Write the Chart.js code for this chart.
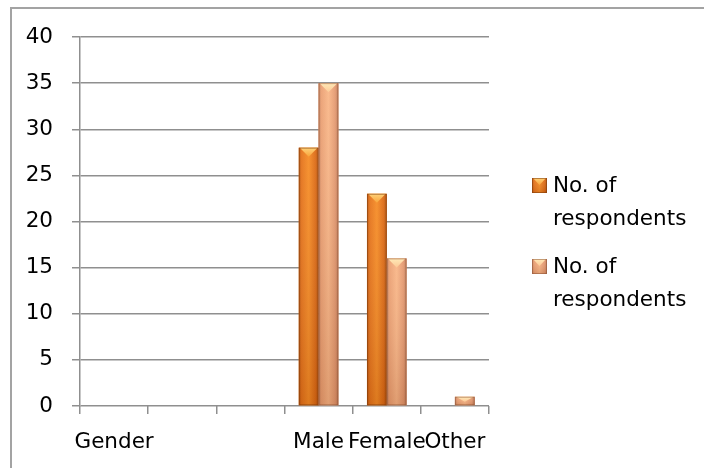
<!DOCTYPE html>
<html>
<head>
<meta charset="utf-8">
<script src="https://cdn.jsdelivr.net/npm/chart.js@4.4.1/dist/chart.umd.min.js"></script>
<style>
  html, body { margin: 0; padding: 0; background: #ffffff; }
  canvas { display: block; }
</style>
</head>
<body>
<canvas id="chart" width="704" height="468"></canvas>
<script>
// Survey data: respondents by gender
const categories = ['Gender', '', '', 'Male', 'Female', 'Other'];
const seriesLabels = ['No. of respondents', 'No. of respondents'];
const respondentsA = [null, null, null, 28, 23, 0];
const respondentsB = [null, null, null, 35, 16, 1];
const yMin = 0;
const yMax = 40;
const yStep = 5;

const FONT = { family: "'DejaVu Sans', sans-serif", size: 21.5 };
const GRID = '#8f8f8f';

// Bevelled bar look for each series
const palettes = [
  {
    base: '#ee7f1f',
    side: [[0, '#b9530d'], [0.14, '#e5731a'], [0.5, '#f68c25'], [0.84, '#dc6a14'], [1, '#b0500c']],
    capTop: '#ffd27a', capBottom: '#f8a43a',
    edge: 'rgba(130,60,10,0.55)'
  },
  {
    base: '#f3a574',
    side: [[0, '#c4825f'], [0.14, '#eba073'], [0.5, '#f9b687'], [0.84, '#e49970'], [1, '#bd7b59']],
    capTop: '#ffeab8', capBottom: '#fcc996',
    edge: 'rgba(140,80,50,0.5)'
  }
];

function paintBar(ctx, left, top, w, h, pal, bevel) {
  if (h <= 0.5 || w <= 0) return;
  ctx.save();
  const g = ctx.createLinearGradient(left, 0, left + w, 0);
  pal.side.forEach(([o, c]) => g.addColorStop(o, c));
  ctx.fillStyle = g;
  ctx.fillRect(left, top, w, h);
  const v = ctx.createLinearGradient(0, top, 0, top + Math.max(h, 1));
  v.addColorStop(0, 'rgba(255,255,255,0.06)');
  v.addColorStop(1, 'rgba(90,30,0,0.16)');
  ctx.fillStyle = v;
  ctx.fillRect(left, top, w, h);
  const b = Math.min(bevel, h * 0.6);
  ctx.beginPath();
  ctx.moveTo(left + 1, top);
  ctx.lineTo(left + w - 1, top);
  ctx.lineTo(left + w / 2, top + b);
  ctx.closePath();
  const tg = ctx.createLinearGradient(0, top, 0, top + b);
  tg.addColorStop(0, pal.capTop);
  tg.addColorStop(1, pal.capBottom);
  ctx.fillStyle = tg;
  ctx.fill();
  ctx.strokeStyle = pal.edge;
  ctx.lineWidth = 1;
  ctx.strokeRect(left + 0.5, top + 0.5, w - 1, h - 1);
  ctx.restore();
}

// Outer frame of the chart object
const framePlugin = {
  id: 'frame',
  beforeDraw(chart) {
    const ctx = chart.ctx;
    ctx.save();
    ctx.fillStyle = '#ffffff';
    ctx.fillRect(0, 0, chart.width, chart.height);
    ctx.strokeStyle = '#a3a3a3';
    ctx.lineWidth = 2;
    ctx.strokeRect(11, 8, chart.width + 20, chart.height + 20);
    ctx.restore();
  }
};

// Repaint each bar with the bevel shading, using the element geometry
const bevelPlugin = {
  id: 'bevelBars',
  afterDatasetsDraw(chart) {
    const ctx = chart.ctx;
    chart.data.datasets.forEach((ds, i) => {
      const meta = chart.getDatasetMeta(i);
      meta.data.forEach((el, j) => {
        if (ds.data[j] == null) return;
        const { x, y, base, width } = el.getProps(['x', 'y', 'base', 'width'], true);
        const top = Math.min(y, base);
        const h = Math.abs(base - y);
        paintBar(ctx, x - width / 2, top, width, h, palettes[i], 9);
      });
    });
  }
};

// Legend at the right with wrapped labels
const sideLegendPlugin = {
  id: 'sideLegend',
  afterDraw(chart) {
    const ctx = chart.ctx;
    const area = chart.chartArea;
    const boxX = area.right + 43;
    const textX = area.right + 64;
    const maxW = chart.width - textX - 4;
    const lineGap = 33;
    const itemGap = 81;
    let baseline = 192;
    ctx.save();
    ctx.font = `${FONT.size}px ${FONT.family}`;
    ctx.fillStyle = '#000000';
    ctx.textAlign = 'left';
    ctx.textBaseline = 'alphabetic';
    chart.data.datasets.forEach((ds, i) => {
      const words = ds.label.split(' ');
      const lines = [];
      let cur = '';
      words.forEach(wd => {
        const t = cur ? cur + ' ' + wd : wd;
        if (cur && ctx.measureText(t).width > maxW) { lines.push(cur); cur = wd; }
        else cur = t;
      });
      if (cur) lines.push(cur);
      paintBar(ctx, boxX, baseline - 14, 15, 15, palettes[i], 7);
      lines.forEach((ln, k) => ctx.fillText(ln, textX, baseline + k * lineGap));
      baseline += itemGap;
    });
    ctx.restore();
  }
};

new Chart(document.getElementById('chart'), {
  type: 'bar',
  data: {
    labels: categories,
    datasets: [
      { label: seriesLabels[0], data: respondentsA, backgroundColor: palettes[0].base },
      { label: seriesLabels[1], data: respondentsB, backgroundColor: palettes[1].base }
    ]
  },
  options: {
    responsive: false,
    animation: false,
    devicePixelRatio: 1,
    layout: { padding: { top: 37, right: 215, bottom: 0, left: 0 } },
    datasets: { bar: { categoryPercentage: 0.58, barPercentage: 1, borderWidth: 0 } },
    plugins: { legend: { display: false }, tooltip: { enabled: false } },
    scales: {
      x: {
        offset: true,
        afterFit(scale) { scale.height = 62; },
        grid: { display: true, offset: true, drawOnChartArea: false, drawTicks: true, tickLength: 8, color: GRID, lineWidth: 1.5 },
        border: { display: false },
        ticks: { autoSkip: false, maxRotation: 0, minRotation: 0, padding: 16, color: '#000000', font: FONT }
      },
      y: {
        min: yMin,
        max: yMax,
        afterFit(scale) { scale.width = 80; },
        grid: { color: GRID, lineWidth: 1.5, tickLength: 8, drawTicks: true },
        border: { display: true, color: GRID, width: 1.5 },
        ticks: { stepSize: yStep, padding: 19, color: '#000000', font: FONT }
      }
    }
  },
  plugins: [framePlugin, bevelPlugin, sideLegendPlugin]
});
</script>
</body>
</html>
